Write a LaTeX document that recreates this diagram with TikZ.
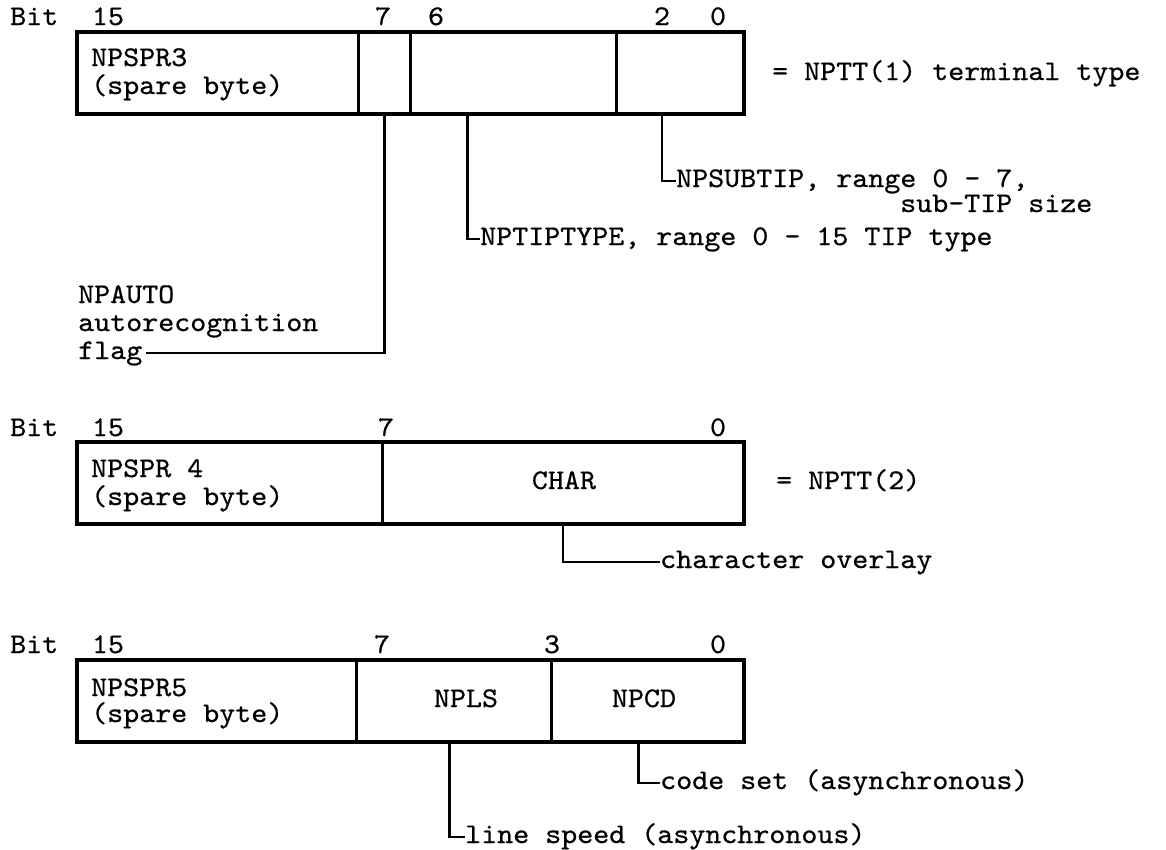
\documentclass[tikz,border=0pt]{standalone}
\usepackage{fontspec}
\newfontfamily\twfam{lmmono10-regular.otf}[FakeStretch=1.07,FakeBold=0.6]
\newcommand\twfont{\twfam\fontsize{28.5}{28.5}\selectfont}
\begin{document}
\begin{tikzpicture}[x=1pt,y=-1pt,
  txt/.style={font=\twfont, inner sep=0pt, anchor=base west},
  dig/.style={txt, anchor=base},
  lbl/.style={txt, text height=12pt, text depth=0pt},
  field/.style={draw, line width=2.6pt, rectangle, inner sep=0pt, anchor=north west, minimum height=82pt},
  outer/.style={draw, line width=4pt, rectangle, inner sep=0pt, anchor=north west, minimum height=82pt, minimum width=667pt},
  conn/.style={draw, line width=2.6pt}]
\useasboundingbox (0,0) rectangle (1166,849);

% ---------- Register 1 ----------
\node[txt] (bit1) at (10,25) {Bit};
\node[dig] (d1a) at (108,25) {15};
\node[dig] (d1b) at (383,25) {7};
\node[dig] (d1c) at (436,25) {6};
\node[dig] (d1d) at (662,25) {2};
\node[dig] (d1e) at (718,25) {0};
\node[field, minimum width=282pt] (f1a) at (75,30) {};
\node[field, minimum width=52pt] (f1b) at (357,30) {};
\node[field, minimum width=206pt] (f1c) at (409,30) {};
\node[field, minimum width=127pt] (f1d) at (615,30) {};
\node[outer] (b1) at (75,30) {};
\node[txt] (t1a) at (91,66) {NPSPR3};
\node[txt] (t1b) at (91,94) {(spare byte)};
\node[txt] (eq1) at (772,80) {= NPTT(1) terminal type};
\node[lbl] (sub1) at (676,187) {NPSUBTIP, range 0 - 7,};
\node[txt] (sub2) at (900,212) {sub-TIP size};
\node[lbl] (tip) at (480,245) {NPTIPTYPE, range 0 - 15 TIP type};
\node[txt] (auto1) at (78,303) {NPAUTO};
\node[txt] (auto2) at (78,331) {autorecognition};
\node[lbl] (flag) at (78,359) {flag};
\draw[conn] ([xshift=-18pt]f1d.south) |- (sub1.west);
\draw[conn] ([xshift=-46pt]f1c.south) |- (tip.west);
\draw[conn] (f1b.south) |- ([xshift=4pt]flag.east);

% ---------- Register 2 ----------
\node[txt] (bit2) at (10,436) {Bit};
\node[dig] (d2a) at (108,436) {15};
\node[dig] (d2b) at (386,436) {7};
\node[dig] (d2c) at (718,436) {0};
\node[field, minimum width=306pt] (f2a) at (75,440) {};
\node[field, minimum width=361pt] (f2b) at (381,440) {};
\node[outer] (b2) at (75,440) {};
\node[txt] (t2a) at (91,477) {NPSPR 4};
\node[txt] (t2b) at (91,505) {(spare byte)};
\node[txt, anchor=base] (char) at (564,489) {CHAR};
\node[txt] (eq2) at (776,489) {= NPTT(2)};
\node[lbl] (ovl) at (660,568) {character overlay};
\draw[conn] (f2b.south) |- (ovl.west);

% ---------- Register 3 ----------
\node[txt] (bit3) at (10,653) {Bit};
\node[dig] (d3a) at (108,653) {15};
\node[dig] (d3b) at (382,653) {7};
\node[dig] (d3c) at (552,653) {3};
\node[dig] (d3d) at (718,653) {0};
\node[field, minimum width=280pt] (f3a) at (75,658) {};
\node[field, minimum width=195pt] (f3b) at (355,658) {};
\node[field, minimum width=192pt] (f3c) at (550,658) {};
\node[outer] (b3) at (75,658) {};
\node[txt] (t3a) at (91,696) {NPSPR5};
\node[txt] (t3b) at (91,722) {(spare byte)};
\node[txt, anchor=base] (npls) at (466,707) {NPLS};
\node[txt, anchor=base] (npcd) at (644,707) {NPCD};
\node[lbl] (code) at (660,789) {code set (asynchronous)};
\node[lbl] (speed) at (465,843) {line speed (asynchronous)};
\draw[conn] ([xshift=-9pt]f3c.south) |- (code.west);
\draw[conn] ([xshift=-4.5pt]f3b.south) |- (speed.west);
\end{tikzpicture}
\end{document}
